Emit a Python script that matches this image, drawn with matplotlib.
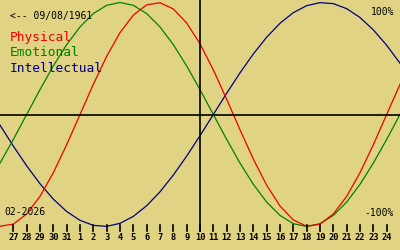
import matplotlib
matplotlib.use("Agg")
import matplotlib.pyplot as plt

# days relative to 10 Feb 2026 (vertical line), from 26 Jan to 25 Feb
days = list(range(-15, 16))

physical = [-0.9977, -0.9791, -0.8879, -0.7308, -0.5196, -0.2698, 0.0, 0.2698,
            0.5196, 0.7308, 0.8879, 0.9791, 0.9977, 0.9423, 0.8170, 0.6311,
            0.3984, 0.1362, -0.1362, -0.3984, -0.6311, -0.8170, -0.9423, -0.9977,
            -0.9791, -0.8879, -0.7308, -0.5196, -0.2698, 0.0, 0.2698]
emotional = [-0.4339, -0.2225, 0.0, 0.2225, 0.4339, 0.6235, 0.7818, 0.9010,
             0.9749, 1.0, 0.9749, 0.9010, 0.7818, 0.6235, 0.4339, 0.2225,
             0.0, -0.2225, -0.4339, -0.6235, -0.7818, -0.9010, -0.9749, -1.0,
             -0.9749, -0.9010, -0.7818, -0.6235, -0.4339, -0.2225, 0.0]
intellectual = [-0.0950, -0.2817, -0.4582, -0.6182, -0.7557, -0.8660, -0.9450, -0.9898,
                -0.9989, -0.9718, -0.9096, -0.8146, -0.6901, -0.5406, -0.3717, -0.1893,
                0.0, 0.1893, 0.3717, 0.5406, 0.6901, 0.8146, 0.9096, 0.9718,
                0.9989, 0.9898, 0.9450, 0.8660, 0.7557, 0.6182, 0.4582]

tick_days = list(range(-14, 15))
tick_labels = ["27", "28", "29", "30", "31"] + [str(i) for i in range(1, 25)]

bg = "#e0d384"
mono = "DejaVu Sans Mono"

fig = plt.figure(figsize=(4, 2.5), dpi=100, facecolor=bg)
ax = fig.add_axes([0, 0, 1, 1])
ax.set_facecolor(bg)
ax.set_xlim(-15, 15)
ax.set_ylim(-135.5 / 112, 114.5 / 112)
ax.axis("off")

ax.plot(days, intellectual, color="#000080", lw=0.9)
ax.plot(days, emotional, color="#008000", lw=0.9)
ax.plot(days, physical, color="#ee0000", lw=0.9)

ax.axhline(0, color="black", lw=1.2)
ax.axvline(0, ymin=0.076, ymax=1, color="black", lw=1.2)

trans = ax.get_xaxis_transform()
for d, lab in zip(tick_days, tick_labels):
    ax.plot([d, d], [0.076, 0.1], color="black", lw=1.2, transform=trans)
    ax.text(d, 0.048, lab, transform=trans, ha="center", va="center",
            family=mono, fontsize=6.3, fontweight="bold")

ft = fig.transFigure
fig.text(10 / 400, 1 - 16 / 250, "<-- 09/08/1961", family=mono, fontsize=7,
         va="center", ha="left")
fig.text(10 / 400, 1 - 38 / 250, "Physical", family=mono, fontsize=9.3,
         color="#ee0000", va="center", ha="left")
fig.text(10 / 400, 1 - 53 / 250, "Emotional", family=mono, fontsize=9.3,
         color="#008000", va="center", ha="left")
fig.text(10 / 400, 1 - 68 / 250, "Intellectual", family=mono, fontsize=9.3,
         color="#000080", va="center", ha="left")
fig.text(394 / 400, 1 - 12 / 250, "100%", family=mono, fontsize=7,
         va="center", ha="right")
fig.text(394 / 400, 1 - 213 / 250, "-100%", family=mono, fontsize=7,
         va="center", ha="right")
fig.text(4 / 400, 1 - 212 / 250, "02-2026", family=mono, fontsize=7,
         va="center", ha="left")

fig.savefig("out.png", dpi=100, facecolor=bg)
